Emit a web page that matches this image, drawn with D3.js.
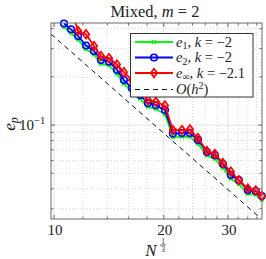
<!DOCTYPE html>
<html><head><meta charset="utf-8">
<script src="https://cdn.jsdelivr.net/npm/d3@7"></script>
<style>body{margin:0;background:#fff;}svg{display:block;}text{font-family:"Liberation Serif","Times New Roman",serif;fill:#222;}</style>
</head><body>
<svg id="c" width="266" height="259"></svg>
<script>
// N^(1/3) sample positions
const nCube = [10.65,11.13,11.64,12.24,12.87,13.45,14.15,14.88,15.55,16.36,17.21,18.10,19.03,20.15,21.19,22.43,23.59,24.81,26.26,27.62,29.05,30.55,32.13,34.01,35.77,37.15];
const e1 = [0.410,0.376,0.342,0.298,0.276,0.241,0.236,0.209,0.181,0.161,0.146,0.130,0.126,0.117,0.0840,0.0845,0.0845,0.0765,0.0645,0.0615,0.0540,0.0462,0.0428,0.0372,0.0367,0.0342];
const e2 = [0.431,0.396,0.360,0.314,0.290,0.255,0.249,0.221,0.191,0.170,0.154,0.137,0.133,0.124,0.0885,0.0891,0.0891,0.0806,0.0678,0.0649,0.0571,0.0487,0.0453,0.0392,0.0387,0.0360];
const eInf = [0.649,0.531,0.387,0.369,0.312,0.270,0.262,0.239,0.214,0.191,0.1655,0.1433,0.1398,0.1324,0.0930,0.0930,0.0940,0.0830,0.0688,0.0659,0.0579,0.0512,0.0453,0.0401,0.0390,0.0360];
const refN = [9.81, 36.5];
const refE = [0.370, 0.0267];
const xTicks = [10,20,30];
const xMinor = [12,14,16,18,22,24,26,28,32,34,36];
const yTicks = [0.1];
const yMinor = [0.03,0.04,0.05,0.06,0.07,0.08,0.09,0.2,0.3,0.4];

const svg = d3.select("#c");
const L=51,R=262,T=23,B=219;
const x = d3.scaleLog().domain([9.81,37.2]).range([L,R]);
const y = d3.scaleLog().domain([0.0259,0.434]).range([B,T]);

svg.append("defs").append("clipPath").attr("id","pc").append("rect")
  .attr("x",L).attr("y",T).attr("width",R-L).attr("height",B-T);

// grid
const g = svg.append("g");
xMinor.forEach(v=>g.append("line").attr("x1",x(v)).attr("x2",x(v)).attr("y1",T).attr("y2",B)
  .attr("stroke","#c8c8c8").attr("stroke-width",0.7).attr("stroke-dasharray","1,2"));
yMinor.forEach(v=>g.append("line").attr("y1",y(v)).attr("y2",y(v)).attr("x1",L).attr("x2",R)
  .attr("stroke","#c8c8c8").attr("stroke-width",0.7).attr("stroke-dasharray","1,2"));
xTicks.forEach(v=>g.append("line").attr("x1",x(v)).attr("x2",x(v)).attr("y1",T).attr("y2",B)
  .attr("stroke","#e3e3e3").attr("stroke-width",1));
yTicks.forEach(v=>g.append("line").attr("y1",y(v)).attr("y2",y(v)).attr("x1",L).attr("x2",R)
  .attr("stroke","#e3e3e3").attr("stroke-width",1));

// series
const series = [
  {vals:e1, color:"#00ff00", marker:"star"},
  {vals:e2, color:"#0000ff", marker:"circle"},
  {vals:eInf, color:"#ff0000", marker:"diamond"}
];
const line = d3.line().x(d=>x(d[0])).y(d=>y(d[1]));
function drawMarker(sel, type, cx, cy, color){
  if(type==="circle"){
    sel.append("circle").attr("cx",cx).attr("cy",cy).attr("r",3.3)
      .attr("fill","none").attr("stroke",color).attr("stroke-width",1.6);
  } else if(type==="diamond"){
    const s=4.3;
    sel.append("path").attr("d",`M${cx},${cy-s}L${cx+s*0.75},${cy}L${cx},${cy+s}L${cx-s*0.75},${cy}Z`)
      .attr("fill","none").attr("stroke",color).attr("stroke-width",1.7);
  } else {
    const s=1.8;
    sel.append("path").attr("d",`M${cx-s},${cy-s}L${cx+s},${cy+s}M${cx-s},${cy+s}L${cx+s},${cy-s}M${cx-s-0.5},${cy}L${cx+s+0.5},${cy}`)
      .attr("stroke",color).attr("stroke-width",1.3);
  }
}
const dg = svg.append("g");
series.forEach(s=>{
  const pts = nCube.map((n,i)=>[n,s.vals[i]]);
  dg.append("path").attr("d",line(pts)).attr("fill","none").attr("stroke",s.color)
    .attr("stroke-width",1.8).attr("clip-path","url(#pc)");
  const mg = dg.append("g");
  pts.forEach(p=>{
    if(p[0]>=9.81 && p[0]<=37.2 && p[1]>=0.0259 && p[1]<=0.434)
      drawMarker(mg, s.marker, x(p[0]), y(p[1]), s.color);
  });
});
// reference O(h^2)
dg.append("path").attr("d",line(refN.map((n,i)=>[n,refE[i]]))).attr("fill","none")
  .attr("stroke","#111").attr("stroke-width",1).attr("stroke-dasharray","5,4").attr("clip-path","url(#pc)");

// axes box & ticks
const ax = svg.append("g").attr("stroke","#6a6a6a").attr("stroke-width",1);
ax.append("rect").attr("x",L).attr("y",T).attr("width",R-L).attr("height",B-T).attr("fill","none");
xTicks.forEach(v=>{ax.append("line").attr("x1",x(v)).attr("x2",x(v)).attr("y1",B).attr("y2",B-4);
  ax.append("line").attr("x1",x(v)).attr("x2",x(v)).attr("y1",T).attr("y2",T+4);});
xMinor.forEach(v=>{ax.append("line").attr("x1",x(v)).attr("x2",x(v)).attr("y1",B).attr("y2",B-2.5);
  ax.append("line").attr("x1",x(v)).attr("x2",x(v)).attr("y1",T).attr("y2",T+2.5);});
yTicks.forEach(v=>{ax.append("line").attr("y1",y(v)).attr("y2",y(v)).attr("x1",L).attr("x2",L+4);
  ax.append("line").attr("y1",y(v)).attr("y2",y(v)).attr("x1",R).attr("x2",R-4);});
yMinor.forEach(v=>{ax.append("line").attr("y1",y(v)).attr("y2",y(v)).attr("x1",L).attr("x2",L+2.5);
  ax.append("line").attr("y1",y(v)).attr("y2",y(v)).attr("x1",R).attr("x2",R-2.5);});

// tick labels
xTicks.forEach(v=>svg.append("text").attr("x",x(v)+1).attr("y",235).attr("text-anchor","middle")
  .attr("font-size",15).text(String(v)));
yTicks.forEach(v=>{
  const t=svg.append("text").attr("x",19).attr("y",y(v)+5).attr("font-size",15);
  t.append("tspan").text("10");
  t.append("tspan").attr("dy",-6).attr("font-size",10.5).text("\u22121");
});

// title
const tt = svg.append("text").attr("x",155).attr("y",17).attr("text-anchor","middle")
  .attr("font-size",16.5);
tt.append("tspan").text("Mixed, ");
tt.append("tspan").attr("font-style","italic").text("m");
tt.append("tspan").text(" = 2");

// x label
const xl = svg.append("text").attr("x",151).attr("y",256).attr("text-anchor","middle")
  .attr("font-size",17);
xl.append("tspan").attr("font-style","italic").text("N");
svg.append("text").attr("x",163).attr("y",243.5).attr("text-anchor","middle")
  .attr("font-size",7.5).text("1");
svg.append("line").attr("x1",160).attr("x2",166).attr("y1",245).attr("y2",245).attr("stroke","#222").attr("stroke-width",0.7);
svg.append("text").attr("x",163).attr("y",251.5).attr("text-anchor","middle")
  .attr("font-size",7.5).text("3");

// y label
const yl = svg.append("text").attr("transform","translate(15,124) rotate(-90)").attr("text-anchor","middle")
  .attr("font-size",17);
yl.append("tspan").attr("font-style","italic").text("e");
yl.append("tspan").attr("font-style","italic").attr("font-size",12).attr("dy",3).text("p");

// legend
const lg = svg.append("g");
lg.append("rect").attr("x",130.5).attr("y",33.5).attr("width",122.5).attr("height",63.5)
  .attr("fill","#fff").attr("stroke","#333").attr("stroke-width",1);
const entries = [
  {color:"#00ff00", marker:"star", sub:"1", k:"\u22122", dash:null},
  {color:"#0000ff", marker:"circle", sub:"2", k:"\u22122", dash:null},
  {color:"#ff0000", marker:"diamond", sub:"\u221e", k:"\u22122.1", dash:null},
  {color:"#111", marker:null, dash:"5,4"}
];
const rowY=[42,57.5,73,89.5];
entries.forEach((e,i)=>{
  const yy=rowY[i];
  const ln=lg.append("line").attr("x1",135).attr("x2",173).attr("y1",yy).attr("y2",yy)
    .attr("stroke",e.color).attr("stroke-width",e.marker?1.8:1);
  if(e.dash) ln.attr("stroke-dasharray",e.dash);
  if(e.marker) drawMarker(lg,e.marker,154,yy,e.color);
  const t=lg.append("text").attr("x",176).attr("y",yy+4.5).attr("font-size",14.5);
  if(e.marker){
    t.append("tspan").attr("font-style","italic").text("e");
    t.append("tspan").attr("font-size",10).attr("dy",2.5).text(e.sub);
    t.append("tspan").attr("dy",-2.5).text(", ");
    t.append("tspan").attr("font-style","italic").text("k");
    t.append("tspan").text(" = "+e.k);
  } else {
    t.append("tspan").attr("font-style","italic").text("O");
    t.append("tspan").text("(");
    t.append("tspan").attr("font-style","italic").text("h");
    t.append("tspan").attr("font-size",10).attr("dy",-5).text("2");
    t.append("tspan").attr("dy",5).text(")");
  }
});
</script>
</body></html>
